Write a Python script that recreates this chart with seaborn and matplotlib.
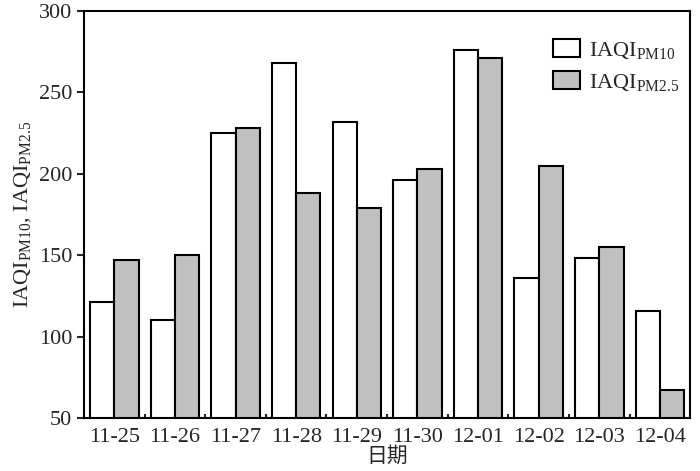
import seaborn as sns
import matplotlib.pyplot as plt
import pandas as pd
import numpy as np

sns.set_theme(style="ticks")
plt.rcParams['font.family'] = ['Liberation Serif', 'Noto Sans CJK SC']
plt.rcParams['mathtext.fontset'] = 'custom'
plt.rcParams['mathtext.rm'] = 'Liberation Serif'
plt.rcParams['mathtext.it'] = 'Liberation Serif:italic'

# data
dates = ["11-25", "11-26", "11-27", "11-28", "11-29",
         "11-30", "12-01", "12-02", "12-03", "12-04"]
pm10 = [121, 110, 225, 268, 232, 196, 276, 136, 148, 116]
pm25 = [147, 150, 228, 188, 179, 203, 271, 205, 155, 67]

lab10 = r"IAQI$_{\mathrm{PM10}}$"
lab25 = r"IAQI$_{\mathrm{PM2.5}}$"

df = pd.DataFrame({
    "date": dates * 2,
    "value": pm10 + pm25,
    "series": [lab10] * len(dates) + [lab25] * len(dates),
})

fig, ax = plt.subplots(figsize=(7, 4.71), dpi=100)
fig.subplots_adjust(left=0.12, right=0.986, top=0.977, bottom=0.1125)

sns.barplot(data=df, x="date", y="value", hue="series",
            palette={lab10: "white", lab25: "#c0c0c0"},
            saturation=1, edgecolor="black", linewidth=1.5,
            width=0.8, ax=ax)

ax.set_ylim(50, 300)
ax.set_xlim(-0.5, len(dates) - 0.5)
ax.set_yticks(np.arange(50, 301, 50))
ax.set_xticks(np.arange(len(dates)))
ax.set_xticklabels(dates)
ax.set_xticks(np.arange(len(dates) - 1) + 0.5, minor=True)
ax.tick_params(axis="x", which="major", length=0, labelsize=16, pad=7)
ax.tick_params(axis="x", which="minor", direction="in", length=3, width=1.5)
ax.tick_params(axis="y", direction="out", length=5, width=1.5, labelsize=16)

for sp in ax.spines.values():
    sp.set_visible(True)
    sp.set_linewidth(1.5)
    sp.set_color("black")

ax.set_xlabel("日期", fontsize=15, labelpad=0)
ax.set_ylabel(lab10 + ", " + lab25, fontsize=16, labelpad=4)

handles, labels = ax.get_legend_handles_labels()
ax.legend(handles, labels, loc="upper right", frameon=False, fontsize=16,
          bbox_to_anchor=(1.015, 0.98), handlelength=1.2, handleheight=0.9,
          handletextpad=0.4, labelspacing=0.45)

plt.savefig("out.png", dpi=100)
